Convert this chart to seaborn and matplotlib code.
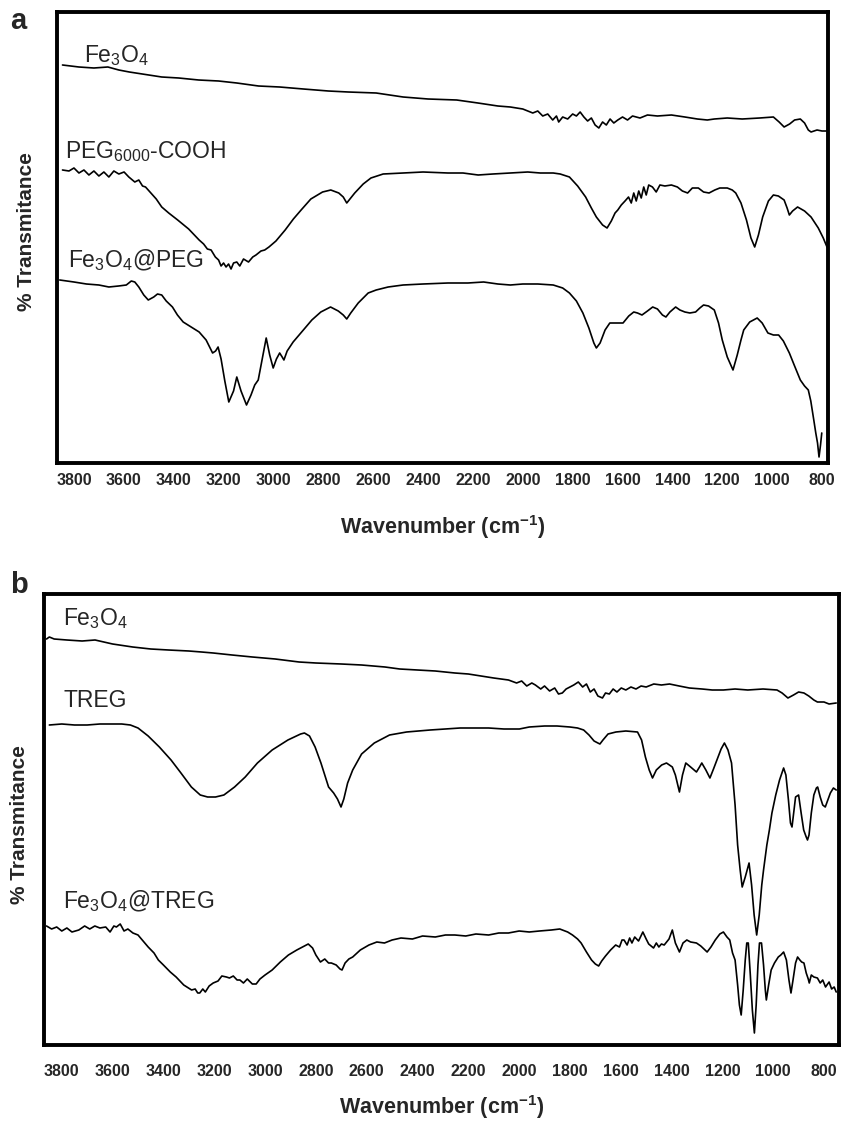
import numpy as np
import pandas as pd
import matplotlib
matplotlib.use("Agg")
import matplotlib.pyplot as plt
import seaborn as sns

# ---------------- data (wavenumber, relative transmittance a.u.) ----------------
# Panel a
a_fe3o4_wn = [3846, 3780, 3720, 3664, 3620, 3578, 3500, 3448, 3380, 3300, 3220, 3147, 3060, 2975, 2880,
              2780, 2700, 2588, 2480, 2380, 2265, 2180, 2100, 2050, 2000, 1960, 1940, 1920, 1900, 1880,
              1865, 1856, 1840, 1820, 1800, 1785, 1770, 1755, 1740, 1725, 1710, 1695, 1680, 1665, 1650,
              1635, 1619, 1600, 1580, 1560, 1530, 1500, 1460, 1404, 1350, 1300, 1260, 1232, 1180, 1120,
              1050, 995, 972, 952, 930, 910, 887, 870, 855, 844, 820, 800, 780]
a_fe3o4_t = [398, 396, 395, 396, 393, 391, 388, 386, 385, 383, 382, 380, 377, 376, 374,
             372, 371, 370, 366, 364, 363, 360, 357, 356, 354, 350, 352, 347, 349, 343,
             347, 341, 346, 344, 349, 347, 351, 346, 342, 345, 338, 335, 341, 338, 344,
             340, 343, 346, 343, 347, 345, 348, 347, 348, 346, 344, 343, 344, 345, 344,
             345, 346, 341, 336, 339, 343, 344, 340, 333, 331, 333, 332, 332]

a_peg_wn = [3846, 3820, 3800, 3780, 3760, 3740, 3720, 3700, 3680, 3660, 3640, 3620, 3599, 3580, 3556,
            3540, 3525, 3513, 3495, 3470, 3448, 3420, 3384, 3340, 3298, 3280, 3265, 3250, 3233, 3220,
            3210, 3200, 3190, 3180, 3170, 3160, 3147, 3135, 3120, 3100, 3083, 3070, 3050, 3035, 3018,
            2990, 2953, 2920, 2889, 2850, 2803, 2770, 2738, 2720, 2706, 2690, 2674, 2640, 2609, 2560,
            2480, 2400, 2300, 2240, 2179, 2120, 2050, 1980, 1930, 1878, 1850, 1813, 1780, 1748, 1725,
            1705, 1680, 1662, 1645, 1630, 1619, 1605, 1590, 1576, 1565, 1555, 1545, 1535, 1525, 1515,
            1505, 1495, 1480, 1465, 1450, 1430, 1404, 1380, 1360, 1339, 1320, 1296, 1275, 1253, 1230,
            1210, 1180, 1160, 1146, 1125, 1103, 1085, 1070, 1055, 1038, 1015, 995, 975, 952, 940,
            931, 918, 898, 870, 844, 815, 795, 780]
a_peg_t = [293, 292, 295, 290, 293, 288, 292, 287, 291, 286, 292, 289, 291, 286, 281,
           283, 277, 276, 271, 264, 256, 250, 243, 234, 223, 219, 214, 213, 206, 203,
           197, 200, 196, 199, 194, 200, 201, 197, 204, 201, 206, 208, 212, 213, 216,
           222, 233, 244, 253, 264, 271, 273, 270, 266, 260, 265, 270, 279, 285, 289,
           290, 291, 290, 290, 288, 289, 290, 291, 290, 290, 289, 286, 277, 266, 255,
           246, 238, 235, 242, 250, 253, 258, 262, 266, 260, 270, 262, 272, 265, 276,
           268, 278, 276, 271, 278, 277, 278, 276, 272, 270, 275, 275, 271, 270, 273,
           275, 275, 273, 270, 260, 243, 225, 216, 228, 246, 262, 268, 267, 263, 255,
           248, 252, 256, 252, 246, 235, 225, 216]

a_fepeg_wn = [3857, 3800, 3750, 3700, 3660, 3621, 3590, 3570, 3556, 3540, 3520, 3502, 3480, 3465, 3448,
              3430, 3405, 3385, 3362, 3330, 3298, 3270, 3244, 3232, 3222, 3210, 3195, 3179, 3160, 3147,
              3130, 3108, 3090, 3075, 3061, 3045, 3029, 3015, 3001, 2988, 2975, 2965, 2958, 2945, 2921,
              2880, 2846, 2810, 2771, 2740, 2720, 2706, 2690, 2660, 2620, 2588, 2540, 2480, 2400, 2300,
              2220, 2157, 2100, 2050, 2000, 1940, 1878, 1840, 1813, 1785, 1759, 1735, 1715, 1705, 1690,
              1670, 1651, 1620, 1598, 1575, 1555, 1540, 1522, 1500, 1479, 1460, 1440, 1426, 1410, 1387,
              1370, 1350, 1330, 1307, 1290, 1275, 1255, 1232, 1215, 1200, 1180, 1157, 1140, 1125, 1114,
              1090, 1060, 1040, 1017, 995, 974, 955, 931, 910, 887, 870, 855, 845, 833, 825,
              818, 812, 806, 801]
a_fepeg_t = [183, 181, 179, 178, 176, 177, 178, 182, 181, 176, 168, 163, 166, 169, 168,
             162, 156, 148, 141, 136, 131, 123, 110, 112, 116, 104, 82, 61, 72, 86,
             72, 58, 68, 78, 83, 104, 125, 108, 95, 104, 110, 106, 103, 112, 121,
             133, 143, 151, 156, 152, 148, 144, 150, 160, 170, 173, 176, 178, 179, 180,
             180, 181, 179, 178, 179, 179, 178, 175, 170, 162, 150, 135, 120, 115, 120,
             133, 140, 140, 140, 147, 151, 150, 148, 152, 156, 154, 148, 146, 151, 156,
             153, 151, 150, 151, 155, 158, 157, 153, 140, 123, 106, 93, 108, 123, 133,
             141, 145, 140, 130, 128, 128, 122, 110, 97, 83, 77, 73, 62, 43, 30,
             20, 6, 18, 30]

# Panel b
b_fe3o4_wn = [3860, 3849, 3830, 3780, 3720, 3669, 3600, 3521, 3450, 3380, 3300, 3250, 3204, 3130, 3050,
              2960, 2866, 2800, 2700, 2620, 2528, 2470, 2400, 2330, 2253, 2200, 2150, 2100, 2042, 2010,
              1990, 1970, 1950, 1936, 1915, 1900, 1880, 1860, 1845, 1830, 1815, 1800, 1785, 1767, 1750,
              1735, 1720, 1705, 1690, 1672, 1660, 1645, 1630, 1615, 1598, 1580, 1560, 1540, 1520, 1500,
              1470, 1440, 1408, 1370, 1330, 1280, 1240, 1196, 1150, 1100, 1040, 985, 965, 942, 920,
              900, 879, 860, 840, 826, 800, 780, 752]
b_fe3o4_t = [406, 408, 406, 405, 404, 405, 401, 398, 396, 395, 394, 393, 392, 390, 388,
             386, 383, 382, 381, 380, 378, 376, 375, 374, 372, 371, 369, 367, 365, 362,
             364, 359, 362, 360, 356, 359, 354, 357, 351, 352, 356, 358, 360, 363, 358,
             361, 353, 356, 349, 347, 352, 351, 356, 353, 357, 355, 358, 356, 359, 358,
             361, 360, 361, 359, 357, 356, 355, 355, 356, 355, 356, 355, 352, 347, 350,
             353, 352, 349, 345, 343, 343, 341, 342]

b_treg_wn = [3849, 3800, 3750, 3700, 3650, 3600, 3564, 3530, 3500, 3460, 3416, 3370, 3331, 3290, 3255,
             3226, 3195, 3162, 3120, 3078, 3030, 2972, 2910, 2860, 2845, 2825, 2803, 2780, 2760, 2750,
             2730, 2715, 2701, 2690, 2675, 2655, 2620, 2570, 2510, 2443, 2350, 2232, 2120, 2060, 1999,
             1960, 1900, 1851, 1800, 1770, 1746, 1725, 1705, 1690, 1682, 1670, 1650, 1619, 1580, 1534,
             1518, 1503, 1488, 1475, 1460, 1439, 1420, 1397, 1385, 1369, 1357, 1344, 1325, 1302, 1290,
             1281, 1265, 1249, 1235, 1217, 1205, 1192, 1178, 1164, 1150, 1140, 1130, 1122, 1110, 1095,
             1085, 1075, 1065, 1055, 1045, 1038, 1025, 1015, 1005, 990, 975, 959, 950, 940, 932,
             926, 918, 912, 900, 890, 880, 870, 865, 859, 850, 840, 830, 825, 815, 805,
             795, 785, 775, 763, 752]
b_treg_t = [320, 321, 320, 320, 321, 321, 321, 320, 317, 309, 298, 285, 272, 258, 250,
            248, 248, 250, 258, 268, 282, 295, 305, 311, 312, 309, 298, 282, 266, 258,
            252, 246, 238, 246, 262, 275, 291, 302, 310, 313, 315, 317, 317, 316, 316,
            318, 319, 319, 318, 317, 315, 310, 304, 302, 301, 305, 311, 313, 314, 313,
            305, 288, 275, 267, 275, 280, 282, 278, 270, 253, 270, 282, 278, 273, 278,
            282, 275, 267, 276, 288, 296, 302, 295, 282, 240, 200, 175, 158, 168, 182,
            160, 130, 110, 130, 160, 175, 200, 215, 232, 250, 265, 277, 270, 245, 222,
            218, 235, 248, 250, 232, 215, 208, 205, 210, 232, 250, 257, 258, 248, 240,
            238, 245, 252, 257, 255]

b_fetreg_wn = [3860, 3840, 3820, 3800, 3780, 3760, 3733, 3710, 3690, 3670, 3650, 3627, 3610, 3595, 3585,
               3570, 3555, 3540, 3520, 3500, 3480, 3460, 3437, 3420, 3400, 3373, 3350, 3320, 3289, 3275,
               3265, 3257, 3245, 3235, 3220, 3204, 3185, 3170, 3152, 3140, 3125, 3110, 3099, 3085, 3070,
               3050, 3035, 3020, 3000, 2972, 2940, 2908, 2875, 2845, 2830, 2813, 2800, 2782, 2765, 2750,
               2739, 2720, 2705, 2697, 2685, 2670, 2655, 2625, 2591, 2560, 2530, 2500, 2465, 2420, 2380,
               2330, 2290, 2253, 2210, 2170, 2120, 2080, 2042, 2000, 1960, 1920, 1873, 1840, 1809, 1790,
               1770, 1756, 1735, 1715, 1700, 1687, 1675, 1660, 1640, 1620, 1605, 1595, 1587, 1575, 1565,
               1556, 1545, 1530, 1513, 1500, 1490, 1471, 1460, 1450, 1440, 1429, 1410, 1397, 1385, 1369,
               1355, 1340, 1325, 1302, 1285, 1260, 1245, 1228, 1210, 1196, 1182, 1171, 1160, 1150, 1140,
               1133, 1126, 1118, 1110, 1104, 1098, 1090, 1082, 1074, 1067, 1060, 1054, 1046, 1038, 1031,
               1027, 1018, 1008, 995, 980, 970, 959, 948, 938, 930, 922, 912, 904, 895, 888,
               879, 870, 862, 858, 850, 840, 826, 815, 805, 794, 780, 770, 760, 752]
b_fetreg_t = [119, 116, 118, 114, 117, 113, 115, 119, 116, 119, 117, 118, 113, 119, 118,
              121, 114, 116, 112, 110, 104, 98, 92, 85, 80, 73, 68, 60, 55, 56,
              52, 52, 56, 53, 59, 62, 64, 69, 68, 67, 69, 65, 65, 62, 66,
              61, 61, 66, 70, 75, 83, 90, 95, 99, 101, 97, 90, 83, 86, 82,
              82, 80, 76, 75, 82, 86, 88, 95, 100, 103, 102, 105, 107, 106, 109,
              108, 110, 110, 109, 111, 110, 112, 112, 114, 113, 114, 115, 116, 113, 110,
              106, 102, 93, 85, 81, 79, 84, 89, 95, 100, 98, 105, 105, 100, 107,
              102, 108, 104, 113, 106, 101, 97, 102, 98, 101, 100, 106, 115, 102, 93,
              102, 105, 103, 102, 99, 93, 98, 105, 111, 113, 108, 105, 92, 85, 60,
              40, 30, 55, 85, 102, 102, 70, 35, 12, 40, 80, 102, 102, 80, 55,
              45, 60, 75, 82, 88, 90, 93, 85, 65, 52, 65, 82, 88, 85, 83,
              82, 72, 66, 62, 70, 68, 67, 62, 65, 58, 63, 56, 58, 53]

xticks = [3800, 3600, 3400, 3200, 3000, 2800, 2600, 2400, 2200, 2000, 1800, 1600, 1400, 1200, 1000, 800]

panel_a = [("Fe$_3$O$_4$", a_fe3o4_wn, a_fe3o4_t),
           ("PEG$_{6000}$-COOH", a_peg_wn, a_peg_t),
           ("Fe$_3$O$_4$@PEG", a_fepeg_wn, a_fepeg_t)]
panel_b = [("Fe$_3$O$_4$", b_fe3o4_wn, b_fe3o4_t),
           ("TREG", b_treg_wn, b_treg_t),
           ("Fe$_3$O$_4$@TREG", b_fetreg_wn, b_fetreg_t)]

# ---------------- style ----------------
sns.set_style("white")
plt.rcParams["font.family"] = ["Liberation Sans", "DejaVu Sans"]
plt.rcParams["mathtext.fontset"] = "custom"
plt.rcParams["mathtext.rm"] = "Liberation Sans"
plt.rcParams["mathtext.it"] = "Liberation Sans"
plt.rcParams["mathtext.bf"] = "Liberation Sans:bold"

W, H = 842, 1123
fig = plt.figure(figsize=(W / 100, H / 100), dpi=100)


def fx(px):
    return px / W


def fy(py):
    return 1 - py / H


def make_panel(left, right, top, bottom, xlim, series, label_pos, tick_pad, xlab_pad):
    ax = fig.add_axes([fx(left), fy(bottom), fx(right) - fx(left), (bottom - top) / H])
    for name, wn, t in series:
        df = pd.DataFrame({"wn": wn, "t": t})
        sns.lineplot(data=df, x="wn", y="t", ax=ax, color="black", lw=1.2,
                     sort=False, estimator=None)
    ax.set_xlim(*xlim)
    ax.set_ylim(0, bottom - top)
    ax.set_yticks([])
    ax.set_xticks(xticks)
    ax.set_xticklabels([str(v) for v in xticks],
                       fontfamily=["Liberation Sans Narrow", "Liberation Sans"],
                       fontweight="bold", fontsize=11.5)
    ax.tick_params(axis="x", length=0, pad=tick_pad)
    for s in ax.spines.values():
        s.set_visible(True)
        s.set_color("black")
        s.set_linewidth(2.8)
    ax.set_xlabel(r"Wavenumber (cm$^{\mathbf{-1}}$)", fontsize=15.5, fontweight="bold",
                  labelpad=xlab_pad)
    ax.set_ylabel("")
    for (name, _, _), (lx, ly) in zip(series, label_pos):
        fig.text(fx(lx), fy(ly), name, fontsize=16.5, va="baseline", ha="left")
    return ax


make_panel(57, 828, 12, 463, (3868, 776), panel_a,
           [(84, 62), (65, 158), (68, 267)], tick_pad=7, xlab_pad=18)
make_panel(44, 839, 594, 1045, (3870, 741), panel_b,
           [(63, 625), (63, 707), (63, 908)], tick_pad=14, xlab_pad=10)

fig.text(fx(27), fy(232), "% Transmitance", rotation=90, fontsize=15, fontweight="bold",
         ha="center", va="center")
fig.text(fx(20), fy(825), "% Transmitance", rotation=90, fontsize=15, fontweight="bold",
         ha="center", va="center")
fig.text(fx(10), fy(29), "a", fontsize=21, fontweight="bold", ha="left", va="baseline")
fig.text(fx(10), fy(593), "b", fontsize=21, fontweight="bold", ha="left", va="baseline")

fig.savefig("out.png", dpi=100, facecolor="white")
